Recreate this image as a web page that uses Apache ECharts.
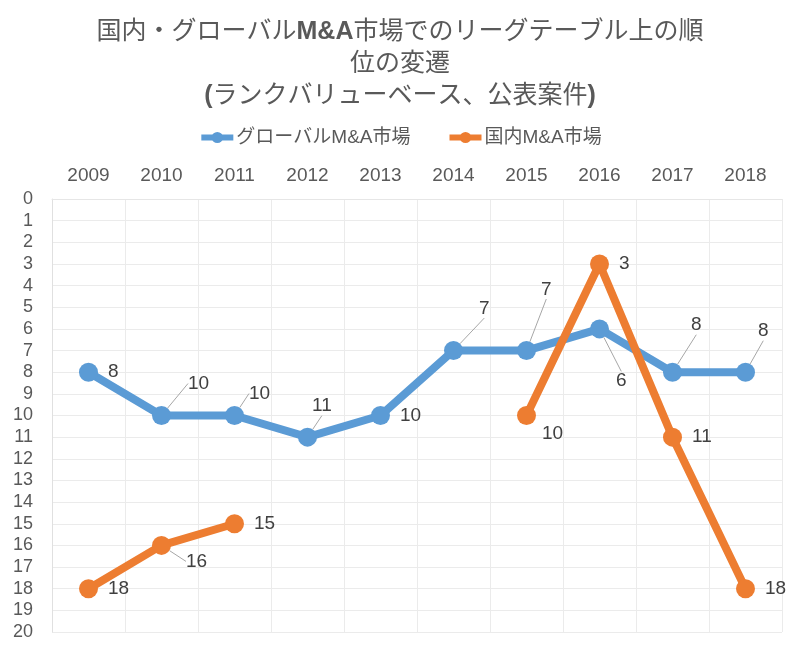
<!DOCTYPE html>
<html><head><meta charset="utf-8">
<script src="https://cdn.jsdelivr.net/npm/echarts@6/dist/echarts.min.js"></script>
<style>html,body{margin:0;padding:0;background:#fff}#c{width:800px;height:652px}</style>
</head><body><div id="c"></div>
<script>
var years = ['2009','2010','2011','2012','2013','2014','2015','2016','2017','2018'];
var globalRank = [8,10,10,11,10,7,7,6,8,8];
var domesticRank = [18,16,15,null,null,null,10,3,11,18];
var seriesNames = ['グローバルM&A市場','国内M&A市場'];

// label offsets (relative to default right-side position) and leader visibility, style only
var globalShift = [[0,0,0],[7,-32,1],[-5,-22,1],[-15,-31,1],[0,0,0],[6,-42,1],[-5,-61,1],[-3,52,1],[-1,-47,1],[-7,-41,1]];
var domesticShift = [[0,0,0],[5,16,1],[0,0,0],[0,0,0],[0,0,0],[0,0,0],[-4,18,0],[0,0,0],[0,0,0],[0,0,0]];
var shifts = [globalShift, domesticShift];

var FONT = "'Liberation Sans', 'Noto Sans CJK JP', sans-serif";
var gray = '#595959';

function buildData(vals, sh){
  return vals.map(function(v,i){
    return {value: v, labelLine: {show: sh[i][2] === 1}};
  });
}

var chart = echarts.init(document.getElementById('c'));
chart.setOption({
  animation: false,
  textStyle: {fontFamily: FONT},
  title: {
    left: 'center', top: 11,
    text: '{n|国内・グローバル}{b|M&A}{n|市場でのリーグテーブル上の順}\n{n|位の変遷}\n{b|(}{n|ランクバリューベース、公表案件}{b|)}',
    textStyle: {
      fontFamily: FONT, color: gray, fontSize: 25, lineHeight: 32,
      rich: {
        n: {fontFamily: FONT, color: gray, fontSize: 25, fontWeight: 'normal', lineHeight: 32},
        b: {fontFamily: FONT, color: gray, fontSize: 25, fontWeight: 'bold', lineHeight: 32}
      }
    }
  },
  legend: {
    top: 123, left: 'center',
    itemWidth: 32, itemHeight: 14, itemGap: 36,
    lineStyle: {width: 6},
    textStyle: {fontFamily: FONT, fontSize: 19, color: gray, padding: [0,0,0,-2]},
    data: seriesNames
  },
  grid: {left: 52, right: 18, top: 199, bottom: 20},
  xAxis: {
    type: 'category', position: 'top', data: years, boundaryGap: true,
    axisLine: {show: true, lineStyle: {color: '#E6E6E6'}},
    axisTick: {show: false},
    axisLabel: {fontFamily: FONT, fontSize: 19, color: gray, margin: 14},
    splitLine: {show: true, lineStyle: {color: '#EBEBEB', width: 1}}
  },
  yAxis: {
    type: 'value', inverse: true, min: 0, max: 20, interval: 1,
    axisLine: {show: true, lineStyle: {color: '#E0E0E0'}},
    axisTick: {show: false},
    axisLabel: {fontFamily: FONT, fontSize: 18, color: gray, margin: 19},
    splitLine: {show: true, lineStyle: {color: '#EBEBEB', width: 1}}
  },
  series: [0,1].map(function(k){
    var color = k === 0 ? '#5B9BD5' : '#ED7D31';
    var vals = k === 0 ? globalRank : domesticRank;
    return {
      name: seriesNames[k], type: 'line',
      data: buildData(vals, shifts[k]),
      symbol: 'circle', symbolSize: 19,
      lineStyle: {color: color, width: 8},
      itemStyle: {color: color},
      label: {show: true, position: 'right', distance: 10, fontFamily: FONT, fontSize: 19, color: '#404040'},
      labelLine: {show: false, lineStyle: {color: '#A6A6A6', width: 1}},
      labelLayout: function(p){
        var s = shifts[p.seriesIndex][p.dataIndex];
        if (!s || (s[0] === 0 && s[1] === 0)) return {};
        return {dx: s[0], dy: s[1]};
      },
      z: k === 0 ? 2 : 3
    };
  })
});
</script>
</body></html>
